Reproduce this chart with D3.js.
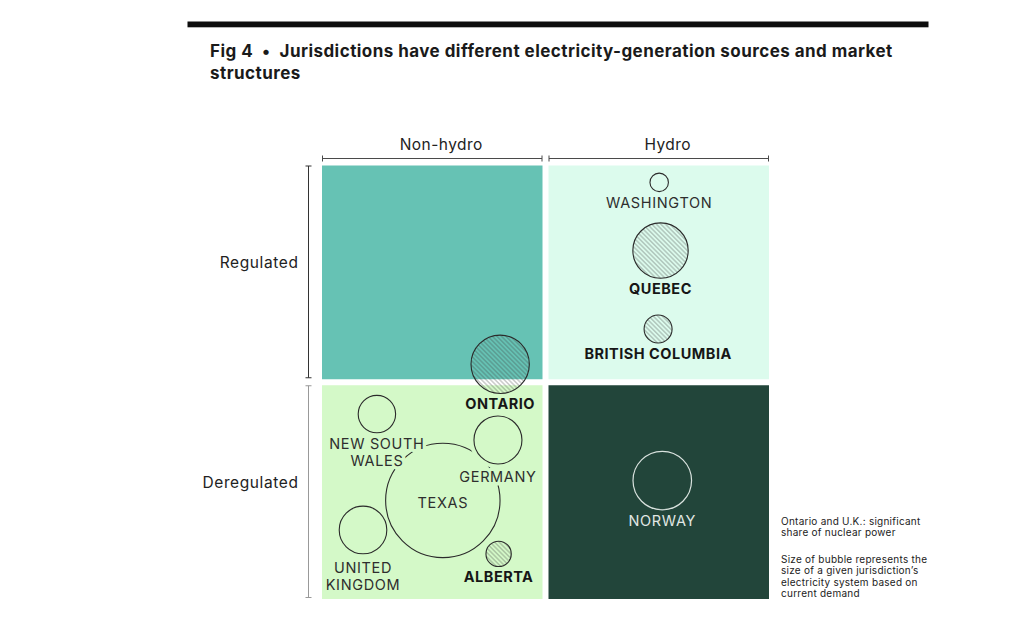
<!DOCTYPE html>
<html><head><meta charset="utf-8">
<script src="https://cdn.jsdelivr.net/npm/d3@7"></script>
<style>
body{margin:0;background:#fff}
svg{display:block}
text{font-family:Inter,"Noto Sans",sans-serif}
</style>
</head><body>
<svg id="chart" width="1024" height="623"></svg>
<script>
// ---------- data ----------
const columns = ["Non-hydro", "Hydro"];
const rows = ["Regulated", "Deregulated"];
const titleLines = ["Fig 4  •  Jurisdictions have different electricity-generation sources and market", "structures"];
const noteNuclear = ["Ontario and U.K.: significant", "share of nuclear power"];
const noteSize = ["Size of bubble represents the", "size of a given jurisdiction’s", "electricity system based on", "current demand"];

const jurisdictions = ["WASHINGTON", "QUEBEC", "BRITISH COLUMBIA", "ONTARIO", "NEW SOUTH WALES", "GERMANY", "TEXAS", "UNITED KINGDOM", "ALBERTA", "NORWAY"];
const labelLines = [["WASHINGTON"], ["QUEBEC"], ["BRITISH COLUMBIA"], ["ONTARIO"], ["NEW SOUTH", "WALES"], ["GERMANY"], ["TEXAS"], ["UNITED", "KINGDOM"], ["ALBERTA"], ["NORWAY"]];
const source = ["Hydro", "Hydro", "Hydro", "Non-hydro", "Non-hydro", "Non-hydro", "Non-hydro", "Non-hydro", "Non-hydro", "Hydro"];
const market = ["Regulated", "Regulated", "Regulated", "Regulated", "Deregulated", "Deregulated", "Deregulated", "Deregulated", "Deregulated", "Deregulated"];
// placement inside the quadrant, 0-100 (left->right, top->bottom)
const placeX = [50.2, 50.8, 49.7, 80.8, 24.9, 79.8, 54.8, 18.6, 80.1, 51.6];
const placeY = [7.9, 39.8, 76.5, 93.0, 13.5, 25.6, 53.9, 67.7, 78.9, 44.6];
// relative size of electricity system (current demand, Texas = 100)
const demand = [2.6, 23.4, 6.0, 26.0, 10.7, 17.6, 100, 17.3, 4.9, 26.2];
const canadian = [false, true, true, true, false, false, false, false, true, false];
const labelInside = [false, false, false, false, false, false, true, false, false, false];

// ---------- styles ----------
const quadColor = {
  "Non-hydro|Regulated": "#66c2b4",
  "Hydro|Regulated": "#dcfbed",
  "Non-hydro|Deregulated": "#d4f9c8",
  "Hydro|Deregulated": "#22453a"
};
const labelNudge = {"WASHINGTON": 1, "GERMANY": 2, "UNITED KINGDOM": 3, "TEXAS": 1.5};

const svg = d3.select("#chart");

// top rule + title
svg.append("rect").attr("x", 187.5).attr("y", 21.5).attr("width", 741).attr("height", 5.8).attr("fill", "#0d0d0d");
svg.append("g").selectAll("text").data(titleLines).join("text")
  .attr("x", 210).attr("y", (d, i) => 56.7 + i * 22.6)
  .attr("font-size", 17).attr("font-weight", 700).attr("fill", "#1a1a1a")
  .attr("letter-spacing", 0.45)
  .attr("xml:space", "preserve").style("white-space", "pre")
  .text(d => d);

// scales
const x = d3.scaleBand().domain(columns).range([322, 769]).paddingInner(6 / 226.5).paddingOuter(0);
const y = d3.scaleBand().domain(rows).range([165.5, 599]).paddingInner(6 / 219.75).paddingOuter(0);
const qx = d3.scaleLinear().domain([0, 100]).range([0, x.bandwidth()]);
const qy = d3.scaleLinear().domain([0, 100]).range([0, y.bandwidth()]);
const r = d3.scaleSqrt().domain([0, 100]).range([0, 57.2]);

// quadrants
const cells = [];
rows.forEach(rw => columns.forEach(c => cells.push({c, rw})));
svg.append("g").selectAll("rect").data(cells).join("rect")
  .attr("x", d => x(d.c)).attr("y", d => y(d.rw))
  .attr("width", x.bandwidth()).attr("height", y.bandwidth())
  .attr("fill", d => quadColor[d.c + "|" + d.rw]);

function bgAt(px, py) {
  let col = columns.find(c => px >= x(c) - 3 && px <= x(c) + x.bandwidth() + 3) || columns[0];
  let rw = rows.find(rr => py >= y(rr) - 3 && py <= y(rr) + y.bandwidth() + 3) || rows[0];
  return quadColor[col + "|" + rw];
}

// column brackets
const colG = svg.append("g").attr("stroke", "#4a4a4a").attr("stroke-width", 1);
columns.forEach(c => {
  const x0 = x(c) + 0.5, x1 = x(c) + x.bandwidth() - 0.5, yy = 158.5;
  colG.append("line").attr("x1", x0).attr("x2", x1).attr("y1", yy).attr("y2", yy);
  colG.append("line").attr("x1", x0).attr("x2", x0).attr("y1", yy - 3).attr("y2", yy + 3);
  colG.append("line").attr("x1", x1).attr("x2", x1).attr("y1", yy - 3).attr("y2", yy + 3);
});
svg.append("g").selectAll("text").data(columns).join("text")
  .attr("x", d => x(d) + x.bandwidth() / 2 + 9).attr("y", 149.5)
  .attr("text-anchor", "middle").attr("font-size", 15.5).attr("fill", "#222")
  .attr("letter-spacing", 0.45)
  .text(d => d);

// row brackets
const rowColors = {"Regulated": "#333", "Deregulated": "#999"};
rows.forEach(rw => {
  const g = svg.append("g").attr("stroke", rowColors[rw]).attr("stroke-width", 1);
  const y0 = y(rw) + 0.5, y1 = y(rw) + y.bandwidth() - 1.5, xx = 308.5;
  g.append("line").attr("x1", xx).attr("x2", xx).attr("y1", y0).attr("y2", y1);
  g.append("line").attr("x1", xx - 3).attr("x2", xx + 3).attr("y1", y0).attr("y2", y0);
  g.append("line").attr("x1", xx - 3).attr("x2", xx + 3).attr("y1", y1).attr("y2", y1);
});
svg.append("g").selectAll("text").data(rows).join("text")
  .attr("x", 298.5).attr("y", d => y(d) + y.bandwidth() / 2 - 4.5)
  .attr("text-anchor", "end").attr("font-size", 15.5).attr("fill", "#222")
  .attr("letter-spacing", 0.6)
  .text(d => d);

// hatch pattern
const defs = svg.append("defs");
const pat = defs.append("pattern").attr("id", "hatch").attr("patternUnits", "userSpaceOnUse")
  .attr("width", 3.2).attr("height", 3.2).attr("patternTransform", "rotate(45)");
pat.append("line").attr("x1", 0).attr("x2", 3.2).attr("y1", 1.6).attr("y2", 1.6)
  .attr("stroke", "#3d3d3d").attr("stroke-opacity", 0.55).attr("stroke-width", 0.75);

// bubbles
const bubbles = jurisdictions.map((n, i) => {
  const cx = x(source[i]) + qx(placeX[i]);
  const cy = y(market[i]) + qy(placeY[i]);
  return {name: n, lines: labelLines[i], cx, cy, r: r(demand[i]), canadian: canadian[i],
          inside: labelInside[i], dark: source[i] === "Hydro" && market[i] === "Deregulated"};
}).sort((a, b) => b.r - a.r);

const haloed = new Set(["GERMANY"]);
const bg = svg.append("g");
bubbles.forEach(b => {
  if (haloed.has(b.name)) {
    bg.append("circle").attr("cx", b.cx).attr("cy", b.cy).attr("r", b.r + 4.5)
      .attr("fill", bgAt(b.cx, b.cy)).attr("stroke", "none");
  }
  bg.append("circle").attr("cx", b.cx).attr("cy", b.cy).attr("r", b.r)
    .attr("fill", b.canadian ? "url(#hatch)" : (haloed.has(b.name) ? bgAt(b.cx, b.cy) : "none"))
    .attr("stroke", b.dark ? "#d9e2de" : "#2b2b2b").attr("stroke-width", b.dark ? 1.2 : 1.1);
});

// labels
const lg = svg.append("g");
bubbles.forEach(b => {
  const base = (b.inside ? b.cy + 6 : b.cy + b.r + 15.8) + (labelNudge[b.name] || 0);
  b.lines.forEach((ln, k) => {
    const ty = base + k * 17;
    lg.append("text").attr("x", b.cx).attr("y", ty)
      .attr("text-anchor", "middle").attr("font-size", 14.5)
      .attr("font-weight", b.canadian ? 700 : 400)
      .attr("letter-spacing", b.canadian ? 0.5 : 0.65)
      .attr("fill", b.dark ? "#e1e8e4" : (b.canadian ? "#161616" : "#2e2e2e"))
      .attr("stroke", bgAt(b.cx, ty - 5)).attr("stroke-width", 7).attr("stroke-linejoin", "round")
      .attr("paint-order", "stroke")
      .text(ln);
  });
});

// notes
const notes = svg.append("g").attr("font-size", 10).attr("fill", "#222").attr("letter-spacing", 0.25);
noteNuclear.forEach((t, i) => notes.append("text").attr("x", 781).attr("y", 524.5 + i * 11.5).text(t));
noteSize.forEach((t, i) => notes.append("text").attr("x", 781).attr("y", 562.5 + i * 11.5).text(t));
</script>
</body></html>
